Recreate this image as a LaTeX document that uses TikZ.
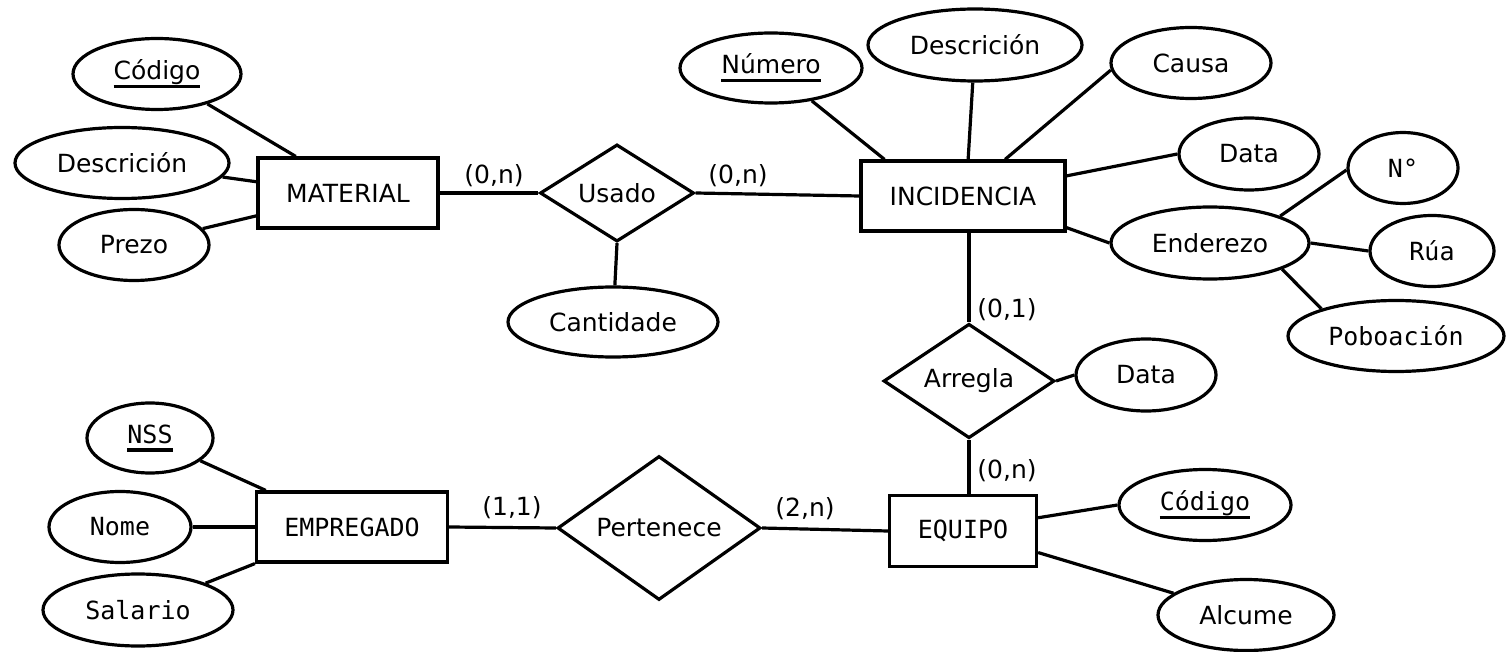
\documentclass[tikz,border=0pt]{standalone}
\usepackage{fontspec}
\setmainfont{DejaVu Sans}
\newfontfamily\monof{DejaVu Sans Mono}
\usetikzlibrary{shapes.geometric}
\newlength\ulw
\newcommand\ulkey[1]{\settowidth\ulw{#1}#1\hspace{-\ulw}\rule[-8.5pt]{\ulw}{3.2pt}}
\tikzset{
  every node/.style={font=\fontsize{25}{29}\selectfont},
  ln/.style={line width=3.2pt},
  ent/.style={draw, line width=3.2pt, rectangle, inner sep=0pt},
  rel/.style={draw, line width=3.2pt, diamond, inner sep=0pt},
  att/.style={draw, line width=3.2pt, ellipse, inner sep=0pt},
  card/.style={inner sep=0pt},
  mono/.style={font=\fontsize{25}{29}\selectfont\monof}
}
\begin{document}
\begin{tikzpicture}[x=1pt,y=-1pt]
\useasboundingbox (0,0) rectangle (1507,652);
% entities
\node[ent, minimum width=180, minimum height=70] (mat) at (348,193) {MATERIAL};
\node[ent, minimum width=204, minimum height=70] (inc) at (963,196) {INCIDENCIA};
\node[ent, mono, minimum width=191, minimum height=70] (emp) at (352,527) {EMPREGADO};
\node[ent, mono, minimum width=147, minimum height=71] (equ) at (963,531) {EQUIPO};
% relationships
\node[rel, minimum width=154, minimum height=93] (usa) at (617,193) {Usado};
\node[rel, minimum width=171, minimum height=100] (arr) at (969,381) {Arregla};
\node[rel, minimum width=203, minimum height=125] (per) at (659,528) {Pertenece};
% attributes MATERIAL
\node[att, minimum width=168, minimum height=71] (mcod) at (157,74) {\ulkey{Código}};
\node[att, minimum width=214, minimum height=71] (mdes) at (122,163) {Descrición};
\node[att, minimum width=150, minimum height=71] (mpre) at (134,245) {Prezo};
% Usado
\node[att, minimum width=210, minimum height=70] (cant) at (613,322) {Cantidade};
% INCIDENCIA
\node[att, minimum width=182, minimum height=70] (inum) at (771,68) {\ulkey{Número}};
\node[att, minimum width=214, minimum height=72] (ides) at (975,45) {Descrición};
\node[att, minimum width=160, minimum height=71] (icau) at (1191,63) {Causa};
\node[att, minimum width=140, minimum height=72] (idat) at (1249,154) {Data};
\node[att, minimum width=198, minimum height=72] (iend) at (1210,243) {Enderezo};
\node[att, mono, minimum width=110, minimum height=71] (enum) at (1403,168) {N°};
\node[att, mono, minimum width=124, minimum height=71] (erua) at (1432,251) {Rúa};
\node[att, mono, minimum width=216, minimum height=71] (epob) at (1396,336) {Poboación};
% Arregla
\node[att, minimum width=140, minimum height=72] (adat) at (1146,375) {Data};
% EMPREGADO
\node[att, mono, minimum width=126, minimum height=70] (enss) at (150,438) {\ulkey{NSS}};
\node[att, mono, minimum width=142, minimum height=71] (enom) at (120,527) {Nome};
\node[att, mono, minimum width=190, minimum height=72] (esal) at (138,610) {Salario};
% EQUIPO
\node[att, mono, minimum width=172, minimum height=71] (qcod) at (1205,505) {\ulkey{Código}};
\node[att, minimum width=176, minimum height=71] (qalc) at (1246,615) {Alcume};
% cardinalities
\node[card] (c1) at (494,176) {(0,n)};
\node[card] (c2) at (738,176) {(0,n)};
\node[card] (c3) at (1007,310) {(0,1)};
\node[card] (c4) at (1007,471) {(0,n)};
\node[card] (c5) at (512,508) {(1,1)};
\node[card] (c6) at (805,509) {(2,n)};
% connectors
\draw[ln] (mat.east) -- (usa.west);
\draw[ln] (usa.east) -- (inc.west);
\draw[ln] (usa.south) -- (cant);
\draw[ln] (arr.north) -- (arr.north |- inc.south);
\draw[ln] (arr.south) -- (arr.south |- equ.north);
\draw[ln] (arr.east) -- (adat.west);
\draw[ln] (per.west) -- (emp.east);
\draw[ln] (per.east) -- (equ.west);
\draw[ln] (mcod) -- (mat.145);
\draw[ln] (mdes) -- (mat.173);
\draw[ln] (mpre) -- (mat.194);
\draw[ln] (inum) -- (inc.155);
\draw[ln] (ides) -- (inc.82);
\draw[ln] (icau.185) -- (inc.41);
\draw[ln] (idat.west) -- (inc.11);
\draw[ln] (iend.west) -- (inc.-17);
\draw[ln] (iend.21) -- (enum.182);
\draw[ln] (iend.east) -- (erua.west);
\draw[ln] (iend.-20) -- (epob.160);
\draw[ln] (enss) -- (emp.157);
\draw[ln] (enom.east) -- (emp.west);
\draw[ln] (esal) -- (emp.south west);
\draw[ln] (qcod.west) -- (equ.10);
\draw[ln] (qalc) -- (equ.-16);
\end{tikzpicture}
\end{document}
